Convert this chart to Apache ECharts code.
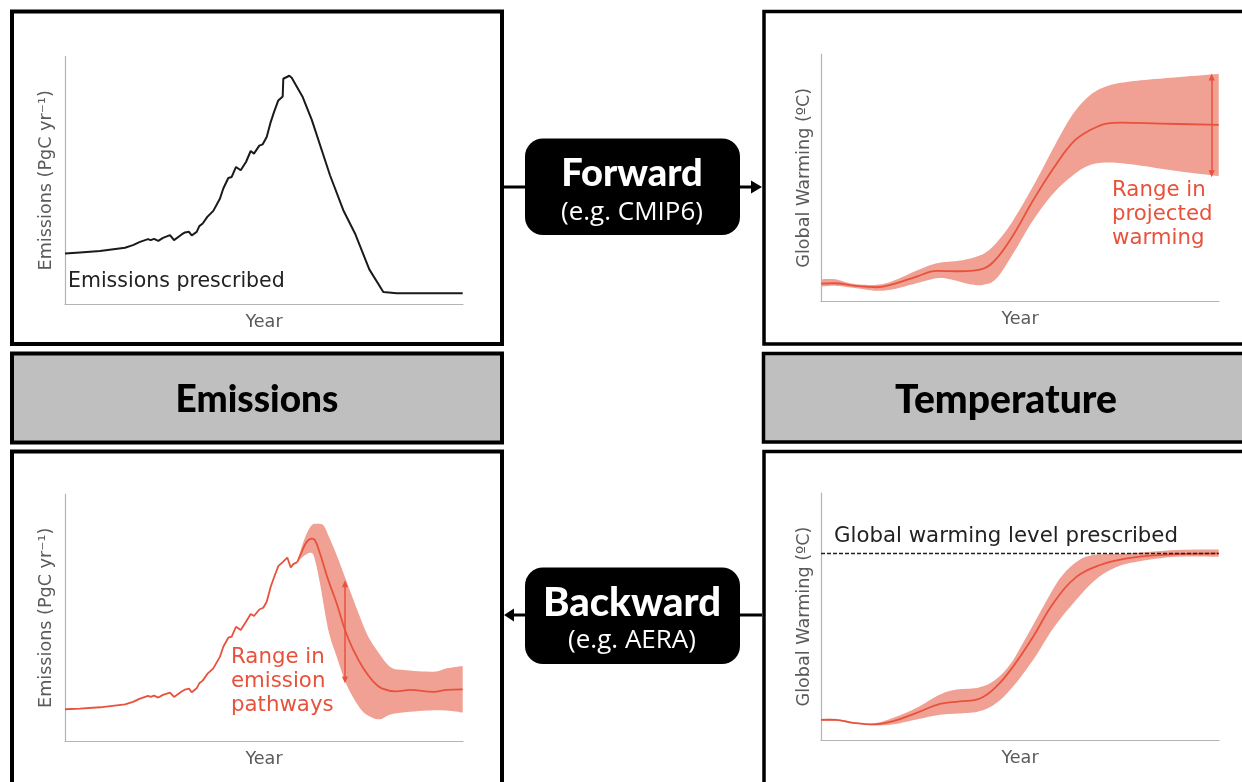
<!DOCTYPE html>
<html>
<head>
<meta charset="utf-8">
<style>
  html, body { margin: 0; padding: 0; background: #fff; }
  #main { width: 1242px; height: 782px; }
</style>
<script src="https://cdn.jsdelivr.net/npm/echarts@6/dist/echarts.min.js"></script>
</head>
<body>
<div id="main"></div>
<script>
// values, as [year since start, level] in arbitrary axis units
var emissionsPrescribed = [[0,50.7],[15,51.7],[35,53],[60,56.3],[68,59],[75,62.3],[83,65],[85.7,64],[89,65.3],[93.3,63.3],[98,66.3],[105,69],[109,64],[116.7,69.7],[120,71.7],[124,72.3],[126.7,68.7],[131.7,72.3],[134.3,78],[137.7,80.7],[142.3,87.3],[148.3,93.3],[155,105.7],[158.3,115.7],[163.3,126.3],[166.7,127.3],[171,137.3],[175.7,134],[181,142.3],[185.7,153.3],[189,150.7],[194.3,158.7],[197.7,160],[201.7,167.3],[205.7,182.3],[209,192.3],[210.7,192.3],[213.3,204],[217.7,208],[218.3,225.7],[224.3,228.7],[226.7,226.7],[237.7,207.3],[246.7,184.7],[265,129],[278.3,94],[290,70.7],[304.3,34.7],[318.3,12],[331.7,10.7],[397.7,10.7]];

var warmingMean = [[0,18],[14,18.3],[32.3,16],[55.7,14.3],[72.3,17.3],[95.7,25],[115.7,30.7],[139,30.3],[162.3,33],[175.7,43.3],[192.3,66.7],[212.3,101.7],[232.3,133.3],[252.3,160],[269,171.7],[285.7,178.3],[300.7,179.3],[339,178.3],[397.7,177]];
var warmingUpper = [[0,22.3],[14,22.3],[32.3,17.7],[55.7,16.7],[72.3,20.7],[95.7,31],[115.7,38.3],[139,41],[155.7,45],[169,52.3],[185.7,71.7],[202.3,98.3],[219,128.3],[235.7,160],[252.3,188.3],[269,206.7],[285.7,215.7],[305.7,220],[339,223.3],[397.7,228]];
var warmingLower = [[0,15],[14,15.7],[32.3,13.7],[55.7,10.7],[72.3,12.3],[95.7,18.3],[115.7,23.3],[129,22.3],[149,17.3],[162.3,16.7],[175.7,23.3],[192.3,48.3],[212.3,81.7],[232.3,108.3],[252.3,126.7],[269,136.7],[289,139.3],[315.7,136.7],[355.7,130.7],[397.7,125.7]];
var warmingRange = [[390.7,225],[390.7,128]];

var pathwayHistory = [[0,32.3],[15,33],[35,34.3],[60,37.3],[68,39.7],[75,43],[83,45.7],[85.7,44.7],[89,46],[93.3,44],[98,46.7],[105,49],[109,44.7],[116.7,50],[120,52],[124,53],[126.7,49.3],[131.7,53.3],[134.3,58.3],[137.7,61],[142.3,67.7],[148.3,73.3],[155,85],[158.3,95],[163.3,104],[166.7,105],[171,115],[175.7,111.7],[181,120],[185.7,127.7],[189,125.7],[194.3,132.3],[198.3,134],[201.7,140],[205.7,155],[209,164.3],[210.7,165],[213.3,175.7],[217.7,179.7],[222.3,184.3],[224.3,184.3],[225.7,174.3],[228.3,177.7],[232.3,179.7]];
var pathwayMean = [[232.3,179.7],[236.7,190],[241.7,200],[246.7,203.3],[250,201.7],[255,188.3],[263.3,161.7],[271.7,138.3],[280,111.7],[288.3,91.7],[298.3,73.3],[308.3,60],[316.7,53.3],[331.7,50.3],[345,51.7],[368.3,49.7],[381.7,51.7],[397.7,52.3]];
var pathwayUpper = [[232.3,179.7],[236.7,195],[241.7,208.3],[246.7,216.7],[251.7,218.3],[258.3,216.7],[263.3,206.7],[271.7,186.7],[281.7,160],[291.7,133.3],[301.7,108.3],[311.7,91.7],[325,75],[338.3,71.7],[368.3,70],[381.7,73.3],[397.7,75.7]];
var pathwayLower = [[232.3,179.7],[240,186.7],[246.7,189],[250,181.7],[255,158.3],[263.3,111.7],[271.7,85],[281.7,56.7],[295,33.3],[305,25],[315,22.3],[328.3,27.7],[361.7,31],[381.7,31],[397.7,29]];
var pathwayRange = [[280,158],[280,61.7]];

var levelMean = [[0,20.3],[14,20.3],[32.3,17.3],[52.3,15.7],[72.3,19],[95.7,27.3],[119,36.3],[139,38.7],[159,41.7],[175.7,54],[192.3,74],[212.3,104],[232.3,137.3],[255.7,164],[279,175.7],[305.7,182.3],[339,185.7],[397.7,187.3]];
var levelUpper = [[0,21.3],[14,21.3],[32.3,18],[52.3,16.7],[72.3,22.3],[95.7,32.3],[119,45.7],[135.7,50.7],[155.7,52.3],[172.3,59],[189,75.7],[205.7,104],[222.3,134],[239,162.3],[255.7,179],[272.3,185.7],[305.7,187.3],[355.7,190.7],[397.7,191.3]];
var levelLower = [[0,19.3],[14,19.3],[32.3,16.7],[52.3,14.7],[72.3,15.7],[95.7,20.7],[119,25.3],[139,26.7],[159,29],[175.7,37.3],[192.3,54],[212.3,80.7],[232.3,112.3],[252.3,137.3],[272.3,159],[292.3,172.3],[315.7,179],[355.7,184],[397.7,184]];
var levelTarget = [[0,187.3],[397.7,187.3]];

var RED = '#e8523c';
var BAND = '#f0a194';
var AXIS = '#b4b4b4';
var LABEL = '#5a5a5a';
var SANS = '"DejaVu Sans"';
var HEAD = 'Lato';
var SUB = '"Open Sans"';

// panels: left, top, width, height of the plot area
var panels = [
  { left: 65,  top: 56.5, width: 398, height: 247.5, yName: 'Emissions (PgC yr\u207B\u00B9)', yGap: 10 },
  { left: 821, top: 54,   width: 398, height: 247.5, yName: 'Global Warming (\u00BAC)', yGap: 8 },
  { left: 65,  top: 494,  width: 398, height: 247.5, yName: 'Emissions (PgC yr\u207B\u00B9)', yGap: 10 },
  { left: 821, top: 493,  width: 398, height: 247,   yName: 'Global Warming (\u00BAC)', yGap: 8 }
];

var grids = [], xAxes = [], yAxes = [];
panels.forEach(function (p) {
  grids.push({ left: p.left, top: p.top, width: p.width, height: p.height });
  xAxes.push({
    type: 'value', gridIndex: grids.length - 1, min: 0, max: 398,
    name: 'Year', nameLocation: 'middle', nameGap: 9,
    nameTextStyle: { fontFamily: SANS, fontSize: 17.6, color: LABEL },
    axisLine: { lineStyle: { color: AXIS, width: 1.2 } },
    axisTick: { show: false }, axisLabel: { show: false }, splitLine: { show: false }
  });
  yAxes.push({
    type: 'value', gridIndex: grids.length - 1, min: 0, max: 248,
    name: p.yName, nameLocation: 'middle', nameGap: p.yGap,
    nameTextStyle: { fontFamily: SANS, fontSize: 17.6, color: LABEL },
    axisLine: { show: true, lineStyle: { color: AXIS, width: 1.2 } },
    axisTick: { show: false }, axisLabel: { show: false }, splitLine: { show: false }
  });
});

function lineSeries(idx, data, color, width, smooth) {
  return {
    type: 'line', xAxisIndex: idx, yAxisIndex: idx, data: data,
    showSymbol: false, silent: true, z: 3, smooth: smooth || false,
    lineStyle: { color: color, width: width }
  };
}

// rounds a polyline edge of the band, in screen space, before it is filled
function curve(pts) {
  var out = [];
  for (var i = 0; i < pts.length - 1; i++) {
    var p0 = pts[Math.max(i - 1, 0)], p1 = pts[i], p2 = pts[i + 1], p3 = pts[Math.min(i + 2, pts.length - 1)];
    for (var k = 0; k < 8; k++) {
      var t = k / 8, t2 = t * t, t3 = t2 * t;
      out.push([
        0.5 * (2 * p1[0] + (p2[0] - p0[0]) * t + (2 * p0[0] - 5 * p1[0] + 4 * p2[0] - p3[0]) * t2 + (3 * p1[0] - p0[0] - 3 * p2[0] + p3[0]) * t3),
        0.5 * (2 * p1[1] + (p2[1] - p0[1]) * t + (2 * p0[1] - 5 * p1[1] + 4 * p2[1] - p3[1]) * t2 + (3 * p1[1] - p0[1] - 3 * p2[1] + p3[1]) * t3)
      ]);
    }
  }
  out.push(pts[pts.length - 1]);
  return out;
}

// shaded range: upper edge then lower edge back, through the axis scales
function bandSeries(idx, upper, lower) {
  return {
    type: 'custom', xAxisIndex: idx, yAxisIndex: idx, silent: true, z: 2,
    data: [upper[0]],
    renderItem: function (params, api) {
      var top = curve(upper.map(function (d) { return api.coord(d); }));
      var bottom = curve(lower.map(function (d) { return api.coord(d); }));
      return {
        type: 'polygon',
        shape: { points: top.concat(bottom.reverse()) },
        style: { fill: BAND }
      };
    }
  };
}

function rangeSeries(idx, data) {
  return {
    type: 'line', xAxisIndex: idx, yAxisIndex: idx, data: [], silent: true, z: 4,
    markLine: {
      silent: true, animation: false,
      symbol: ['triangle', 'triangle'], symbolSize: [6, 7],
      label: { show: false },
      lineStyle: { color: RED, width: 1.5, type: 'solid' },
      data: [[{ coord: data[0] }, { coord: data[1] }]]
    }
  };
}

var series = [
  lineSeries(0, emissionsPrescribed, '#1a1a1a', 2),
  bandSeries(1, warmingUpper, warmingLower),
  lineSeries(1, warmingMean, RED, 1.8, 0.4),
  rangeSeries(1, warmingRange),
  bandSeries(2, pathwayUpper, pathwayLower),
  lineSeries(2, pathwayHistory, RED, 1.8),
  lineSeries(2, pathwayMean, RED, 1.8, 0.4),
  rangeSeries(2, pathwayRange),
  bandSeries(3, levelUpper, levelLower),
  lineSeries(3, levelMean, RED, 1.8, 0.4),
  lineSeries(3, levelTarget, '#222', 1.4)
];
series[series.length - 1].lineStyle.type = [4, 2];
series[series.length - 1].z = 5;

function frame(x, y, w, h, lw, fill) {
  return { type: 'rect', shape: { x: x, y: y, width: w, height: h }, z: 0, silent: true,
    style: { fill: fill || '#fff', stroke: '#000', lineWidth: lw } };
}
function txt(x, y, s, font, size, color, weight, align, lh) {
  return { type: 'text', x: x, y: y, z: 20, silent: true,
    style: { text: s, fontFamily: font, fontSize: size, fill: color, fontWeight: weight || 'normal',
      align: align || 'left', verticalAlign: 'middle', lineHeight: lh } };
}
function connector(x1, x2, y) {
  return { type: 'line', shape: { x1: x1, y1: y, x2: x2, y2: y }, z: 1, silent: true,
    style: { stroke: '#000', lineWidth: 3 } };
}
function arrowhead(tip, base, y) {
  return { type: 'polygon', shape: { points: [[tip, y], [base, y - 6.5], [base, y + 6.5]] }, z: 1, silent: true,
    style: { fill: '#000' } };
}
function box(y) {
  return { type: 'rect', shape: { x: 525, y: y, width: 215, height: 96.5, r: 18 }, z: 10, silent: true,
    style: { fill: '#000' } };
}

var graphics = [
  frame(12, 11.5, 490, 332.5, 4),
  frame(764, 11.5, 520, 332.5, 3.5),
  frame(12, 451.5, 490, 360, 4),
  frame(764, 451.5, 520, 360, 3.5),
  frame(12, 353.5, 490, 89, 4, '#bfbfbf'),
  frame(763.5, 353.5, 520, 88.5, 3.5, '#bfbfbf'),
  txt(257, 400, 'Emissions', HEAD, 37, '#000', 900, 'center'),
  txt(1006, 400, 'Temperature', HEAD, 39, '#000', 900, 'center'),

  connector(503, 525, 187),
  connector(740, 752, 187),
  arrowhead(762, 751, 187),
  connector(740, 762, 615),
  connector(514, 525, 615),
  arrowhead(504, 514, 615),

  box(138.5),
  box(567.5),
  txt(632, 174, 'Forward', HEAD, 38, '#fff', 900, 'center'),
  txt(632, 213, '(e.g. CMIP6)', SUB, 26, '#fff', 'normal', 'center'),
  txt(632, 603, 'Backward', HEAD, 40, '#fff', 900, 'center'),
  txt(632, 641, '(e.g. AERA)', SUB, 26, '#fff', 'normal', 'center'),

  txt(68, 282, 'Emissions prescribed', SANS, 20.5, '#222'),
  txt(834, 536, 'Global warming level prescribed', SANS, 21.3, '#222'),
  txt(1112, 214, 'Range in\nprojected\nwarming', SANS, 21.3, RED, 'normal', 'left', 24),
  txt(231, 681, 'Range in\nemission\npathways', SANS, 21.3, RED, 'normal', 'left', 24)
];

var myChart = echarts.init(document.getElementById('main'));
myChart.setOption({
  animation: false,
  backgroundColor: '#fff',
  grid: grids,
  xAxis: xAxes,
  yAxis: yAxes,
  series: series,
  graphic: { elements: graphics }
});
</script>
</body>
</html>
